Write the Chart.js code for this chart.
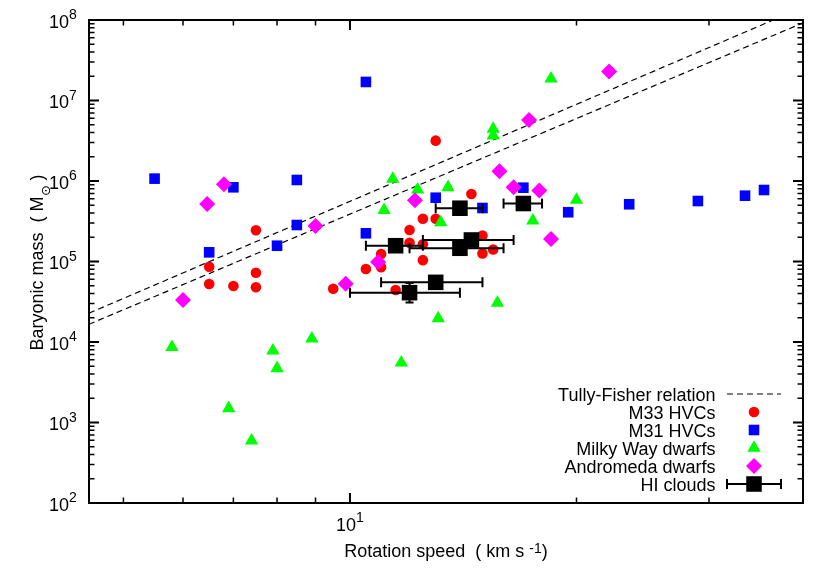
<!DOCTYPE html>
<html><head><meta charset="utf-8">
<script src="https://cdn.jsdelivr.net/npm/chart.js@4.4.1/dist/chart.umd.min.js"></script>
<style>html,body{margin:0;padding:0;background:#fff}canvas{display:block}</style>
</head><body>
<canvas id="c" width="830" height="580"></canvas>
<script>
// ---------- data (rotation speed km/s, baryonic mass Msun) ----------
const tfSpeed = [4.5, 40];
const tfUpperMass = [2.28e4, 1.44e8];
const tfLowerMass = [1.66e4, 9.2e7];

const m33Speed = [6.5,6.5,7.0,7.5,7.5,7.5,9.5,10.5,11.0,11.0,11.5,12.0,12.0,12.5,12.5,12.5,13.0,13.0,14.5,15.0,15.0,15.5];
const m33Mass  = [8.6e4,5.25e4,4.96e4,2.44e5,7.26e4,4.78e4,4.59e4,8.07e4,1.24e5,8.47e4,4.43e4,2.46e5,1.71e5,3.40e5,1.64e5,1.04e5,3.40e5,3.17e6,6.9e5,2.10e5,1.26e5,1.41e5];

const m31Speed = [5.5,6.5,7.0,8.0,8.5,8.5,10.5,10.5,13.0,15.0,17.0,19.5,23.5,29.0,33.5,35.5];
const m31Mass  = [1.07e6,1.30e5,8.35e5,1.57e5,1.03e6,2.84e5,1.70e7,2.24e5,6.2e5,4.62e5,8.26e5,4.09e5,5.14e5,5.64e5,6.57e5,7.73e5];

const mwSpeed = [5.8,6.9,7.4,7.9,8.0,8.9,11.1,11.4,11.7,12.3,13.1,13.2,13.5,15.5,15.5,15.7,17.5,18.5,20.0];
const mwMass  = [8.6e3,1.50e3,594,7.8e3,4.71e3,1.10e4,4.33e5,1.06e6,5.53e3,7.8e5,1.96e4,3.05e5,8.35e5,4.43e6,3.67e6,3.05e4,3.21e5,1.87e7,5.81e5];

const andSpeed = [6.0,6.46,6.8,9.0,9.87,10.9,12.2,15.8,16.5,17.3,17.85,18.5,22.1];
const andMass  = [3.32e4,5.18e5,9.1e5,2.76e5,5.28e4,9.86e4,5.77e5,1.32e6,8.35e5,5.73e6,7.62e5,1.91e5,2.29e7];

const hiSpeed    = [11.5,12.0,13.0,14.0,14.0,14.5,17.0];
const hiSpeedErr = [1.0,2.0,2.0,2.0,1.0,2.0,1.0];
const hiMass     = [1.57e5,4.1e4,5.51e4,1.46e5,4.59e5,1.85e5,5.25e5];
const hiMassMin  = [null,3.1e4,null,null,null,null,null];
const hiMassMax  = [null,5.4e4,null,null,null,null,null];

const xMajorTicks = [10];
const xMinorTicks = [5,6,7,8,9,20,30];
const yMajorTicks = [1e2,1e3,1e4,1e5,1e6,1e7,1e8];

const legendLabels = ['Tully-Fisher relation','M33 HVCs','M31 HVCs','Milky Way dwarfs','Andromeda dwarfs','HI clouds'];

// ---------- helpers ----------
const pts = (xs, ys) => xs.map((v, i) => ({x: v, y: ys[i]}));
const FONT = '"Liberation Sans", Arial, Helvetica, sans-serif';
const hiPoints = hiSpeed.map((v, i) => ({
  x: v, y: hiMass[i], xMin: v - hiSpeedErr[i], xMax: v + hiSpeedErr[i],
  yMin: hiMassMin[i], yMax: hiMassMax[i]
}));

const styles = {
  m33: {pointStyle: 'circle', radius: 5.3, color: '#ff0000'},
  m31: {pointStyle: 'rect', radius: 7.5, color: '#0000ff'},
  mw:  {pointStyle: 'triangle', radius: 7.7, color: '#00ff00'},
  and: {pointStyle: 'rectRot', radius: 8, color: '#ff00ff'},
  hi:  {pointStyle: 'rect', radius: 11, color: '#000000'}
};
function pointDs(label, data, st, order) {
  return {label, data, order, pointStyle: st.pointStyle, pointRadius: st.radius,
    pointBackgroundColor: st.color, pointBorderWidth: 0, pointBorderColor: st.color,
    backgroundColor: st.color, borderColor: st.color, showLine: false, pointHoverRadius: st.radius};
}

// ---------- plugins ----------
const errPlugin = {
  id: 'errbars',
  beforeDatasetDraw(chart, args) {
    const ds = chart.data.datasets[args.index];
    if (!ds.errorBars) return;
    const {ctx, scales: {x, y}} = chart;
    ctx.save();
    ctx.strokeStyle = '#000'; ctx.lineWidth = 2;
    ds.data.forEach(p => {
      const py = y.getPixelForValue(p.y), px = x.getPixelForValue(p.x);
      const x0 = x.getPixelForValue(p.xMin), x1 = x.getPixelForValue(p.xMax);
      ctx.beginPath();
      ctx.moveTo(x0, py); ctx.lineTo(x1, py);
      ctx.moveTo(x0, py - 5); ctx.lineTo(x0, py + 5);
      ctx.moveTo(x1, py - 5); ctx.lineTo(x1, py + 5);
      if (p.yMin) {
        const y0 = y.getPixelForValue(p.yMin), y1 = y.getPixelForValue(p.yMax);
        ctx.moveTo(px, y0); ctx.lineTo(px, y1);
        ctx.moveTo(px - 4, y0); ctx.lineTo(px + 4, y0);
        ctx.moveTo(px - 4, y1); ctx.lineTo(px + 4, y1);
      }
      ctx.stroke();
    });
    ctx.restore();
  }
};

const axesPlugin = {
  id: 'axesDecor',
  afterDatasetsDraw(chart) {
    const {ctx, chartArea: a, scales: {x, y}} = chart;
    ctx.save();
    ctx.strokeStyle = '#000';
    const tickX = (v, len, w) => {
      const px = x.getPixelForValue(v);
      ctx.lineWidth = w; ctx.beginPath();
      ctx.moveTo(px, a.bottom); ctx.lineTo(px, a.bottom - len);
      ctx.moveTo(px, a.top); ctx.lineTo(px, a.top + len);
      ctx.stroke();
    };
    const tickY = (v, len, w) => {
      const py = y.getPixelForValue(v);
      ctx.lineWidth = w; ctx.beginPath();
      ctx.moveTo(a.left, py); ctx.lineTo(a.left + len, py);
      ctx.moveTo(a.right, py); ctx.lineTo(a.right - len, py);
      ctx.stroke();
    };
    xMajorTicks.forEach(v => tickX(v, 10, 2));
    xMinorTicks.forEach(v => tickX(v, 5.5, 1.5));
    yMajorTicks.forEach(v => tickY(v, 10, 2));
    for (let i = 0; i < yMajorTicks.length - 1; i++) {
      for (let k = 2; k <= 9; k++) tickY(yMajorTicks[i] * k, 5.5, 1.5);
    }
    ctx.lineWidth = 2;
    ctx.strokeRect(a.left, a.top, a.right - a.left, a.bottom - a.top);

    ctx.fillStyle = '#000';
    // y tick labels 10^n
    yMajorTicks.forEach(v => {
      const py = y.getPixelForValue(v);
      const e = String(Math.round(Math.log10(v)));
      ctx.font = '18px ' + FONT; ctx.textAlign = 'right'; ctx.textBaseline = 'alphabetic';
      ctx.fillText('10', 69, py + 7.5);
      ctx.font = '14px ' + FONT; ctx.textAlign = 'left';
      ctx.fillText(e, 69, py - 0.8);
    });
    // x tick labels
    xMajorTicks.forEach(v => {
      const px = x.getPixelForValue(v);
      const e = String(Math.round(Math.log10(v)));
      ctx.font = '18px ' + FONT; const w1 = ctx.measureText('10').width;
      ctx.font = '14px ' + FONT; const w2 = ctx.measureText(e).width;
      const x0 = px - (w1 + w2) / 2;
      ctx.textAlign = 'left'; ctx.textBaseline = 'alphabetic';
      ctx.font = '18px ' + FONT; ctx.fillText('10', x0, 530.7);
      ctx.font = '14px ' + FONT; ctx.fillText(e, x0 + w1, 521.7);
    });
    // x title
    {
      const t1 = 'Rotation speed  ( km s ', t2 = '-1', t3 = ')';
      ctx.font = '18px ' + FONT; const w1 = ctx.measureText(t1).width, w3 = ctx.measureText(t3).width;
      ctx.font = '14px ' + FONT; const w2 = ctx.measureText(t2).width;
      let x0 = (a.left + a.right) / 2 - (w1 + w2 + w3) / 2;
      ctx.textAlign = 'left';
      ctx.font = '18px ' + FONT; ctx.fillText(t1, x0, 556.7);
      ctx.font = '14px ' + FONT; ctx.fillText(t2, x0 + w1, 552.5);
      ctx.font = '18px ' + FONT; ctx.fillText(t3, x0 + w1 + w2, 556.7);
    }
    // y title (rotated)
    {
      const t1 = 'Baryonic mass  ( M', t2 = '\u2299', t3 = ' )';
      ctx.save();
      ctx.translate(43, (a.top + a.bottom) / 2 + 1);
      ctx.rotate(-Math.PI / 2);
      ctx.font = '18px ' + FONT; const w1 = ctx.measureText(t1).width, w3 = ctx.measureText(t3).width;
      ctx.font = '13px "DejaVu Sans", ' + FONT; const w2 = ctx.measureText(t2).width;
      let x0 = -(w1 + w2 + w3) / 2;
      ctx.textAlign = 'left'; ctx.textBaseline = 'alphabetic';
      ctx.font = '18px ' + FONT; ctx.fillText(t1, x0, 0);
      ctx.font = '13px "DejaVu Sans", ' + FONT; ctx.fillText(t2, x0 + w1 + 0.5, 6.5);
      ctx.font = '18px ' + FONT; ctx.fillText(t3, x0 + w1 + w2, 0);
      ctx.restore();
    }
    ctx.restore();
  }
};

const legendPlugin = {
  id: 'gpLegend',
  afterDraw(chart) {
    const ctx = chart.ctx;
    const textRight = 715.5, sx0 = 727, sx1 = 781, sxc = 754, y0 = 394, dy = 18;
    const keys = [null, 'm33', 'm31', 'mw', 'and', 'hi'];
    ctx.save();
    legendLabels.forEach((lab, i) => {
      const ry = y0 + i * dy;
      ctx.fillStyle = '#000';
      ctx.font = '18px ' + FONT; ctx.textAlign = 'right'; ctx.textBaseline = 'alphabetic';
      ctx.fillText(lab, textRight, ry + 6.5);
      if (i === 0) {
        ctx.strokeStyle = '#000'; ctx.lineWidth = 1.2; ctx.setLineDash([6, 4]);
        ctx.beginPath(); ctx.moveTo(sx0, ry); ctx.lineTo(sx1, ry); ctx.stroke();
        ctx.setLineDash([]);
        return;
      }
      const st = styles[keys[i]];
      if (keys[i] === 'hi') {
        ctx.strokeStyle = '#000'; ctx.lineWidth = 2;
        ctx.beginPath();
        ctx.moveTo(sx0, ry); ctx.lineTo(sx1, ry);
        ctx.moveTo(sx0, ry - 5); ctx.lineTo(sx0, ry + 5);
        ctx.moveTo(sx1, ry - 5); ctx.lineTo(sx1, ry + 5);
        ctx.stroke();
      }
      ctx.fillStyle = st.color;
      Chart.helpers.drawPoint(ctx, {pointStyle: st.pointStyle, radius: st.radius, rotation: 0, borderWidth: 0}, sxc, ry);
    });
    ctx.restore();
  }
};

// ---------- chart ----------
new Chart(document.getElementById('c'), {
  type: 'scatter',
  data: {
    datasets: [
      {label: 'TF upper', data: pts(tfSpeed, tfUpperMass), showLine: true, pointRadius: 0, borderColor: '#000',
        borderWidth: 1.2, borderDash: [6, 4], order: 5, clip: 0},
      {label: 'TF lower', data: pts(tfSpeed, tfLowerMass), showLine: true, pointRadius: 0, borderColor: '#000',
        borderWidth: 1.2, borderDash: [6, 4], order: 5, clip: 0},
      pointDs('M33 HVCs', pts(m33Speed, m33Mass), styles.m33, 4),
      pointDs('M31 HVCs', pts(m31Speed, m31Mass), styles.m31, 3),
      pointDs('Milky Way dwarfs', pts(mwSpeed, mwMass), styles.mw, 2),
      pointDs('Andromeda dwarfs', pts(andSpeed, andMass), styles.and, 1),
      Object.assign(pointDs('HI clouds', hiPoints, styles.hi, 0), {errorBars: true})
    ]
  },
  options: {
    responsive: false,
    animation: false,
    events: [],
    layout: {padding: {left: 89, right: 27, top: 20, bottom: 77}},
    plugins: {legend: {display: false}, tooltip: {enabled: false}},
    scales: {
      x: {type: 'logarithmic', min: 4.5, max: 40, display: false},
      y: {type: 'logarithmic', min: 1e2, max: 1e8, display: false}
    }
  },
  plugins: [errPlugin, axesPlugin, legendPlugin]
});
</script>
</body></html>
